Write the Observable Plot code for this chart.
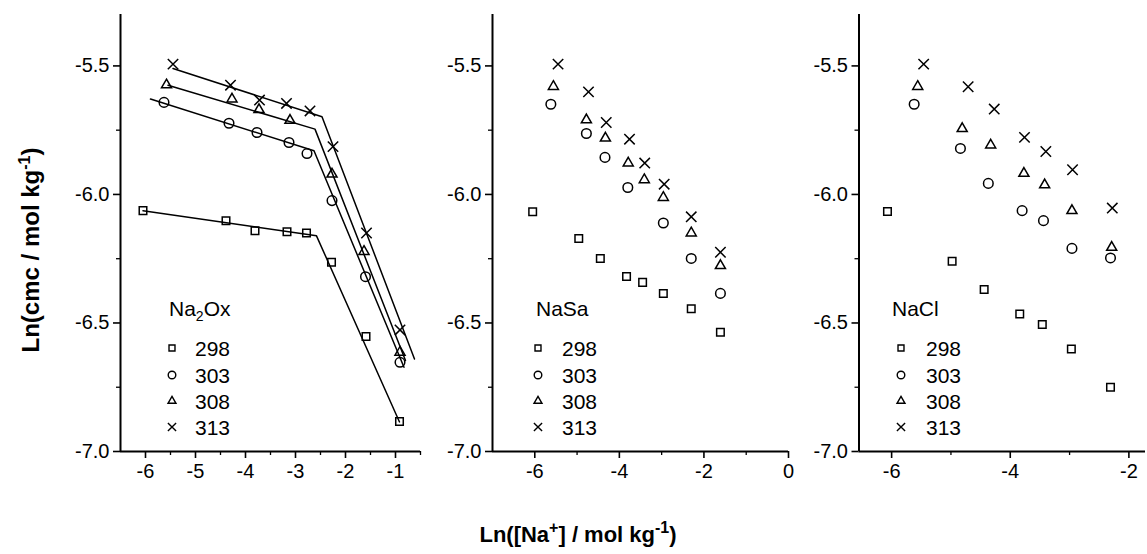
<!DOCTYPE html>
<html>
<head>
<meta charset="utf-8">
<script src="https://cdn.jsdelivr.net/npm/d3@7"></script>
<script src="https://cdn.jsdelivr.net/npm/@observablehq/plot@0.6"></script>
<style>
  html, body { margin: 0; padding: 0; background: #fff; }
  #wrap { position: relative; width: 1147px; height: 554px; overflow: hidden; background: #fff; }
  #wrap > .panel { position: absolute; top: 0; }
  #overlay { position: absolute; left: 0; top: 0; pointer-events: none; }
</style>
</head>
<body>
<div id="wrap"></div>
<script>
// ---------- DATA ----------
const temps = ["298", "303", "308", "313"];
const panelTitles = ["Na2Ox", "NaSa", "NaCl"];

// Panel 1: Na2Ox
const ox298x = [-6.05, -4.39, -3.81, -3.17, -2.78, -2.28, -1.59, -0.92];
const ox298y = [-6.063, -6.102, -6.141, -6.145, -6.150, -6.264, -6.553, -6.883];
const ox303x = [-5.63, -4.33, -3.77, -3.13, -2.77, -2.27, -1.60, -0.91];
const ox303y = [-5.642, -5.723, -5.759, -5.798, -5.841, -6.024, -6.320, -6.653];
const ox308x = [-5.58, -4.27, -3.73, -3.11, -2.27, -1.63, -0.91];
const ox308y = [-5.574, -5.629, -5.670, -5.712, -5.921, -6.222, -6.614];
const ox313x = [-5.45, -4.30, -3.72, -3.18, -2.71, -2.25, -1.58, -0.91];
const ox313y = [-5.493, -5.575, -5.633, -5.646, -5.675, -5.814, -6.150, -6.527];

// Panel 1 fitted broken lines
const fit298x = [-6.05, -2.58, -0.92];
const fit298y = [-6.063, -6.161, -6.885];
const fit303x = [-5.90, -2.63, -0.83];
const fit303y = [-5.629, -5.830, -6.672];
const fit308x = [-5.55, -2.61, -0.80];
const fit308y = [-5.575, -5.746, -6.646];
const fit313x = [-5.45, -2.47, -0.62];
const fit313y = [-5.510, -5.698, -6.640];

// Panel 2: NaSa
const sa298x = [-6.05, -4.96, -4.45, -3.83, -3.45, -2.96, -2.30, -1.61];
const sa298y = [-6.067, -6.171, -6.249, -6.319, -6.342, -6.385, -6.445, -6.536];
const sa303x = [-5.62, -4.78, -4.34, -3.80, -2.96, -2.30, -1.61];
const sa303y = [-5.649, -5.763, -5.856, -5.973, -6.111, -6.249, -6.385];
const sa308x = [-5.56, -4.78, -4.33, -3.79, -3.41, -2.96, -2.30, -1.61];
const sa308y = [-5.580, -5.710, -5.781, -5.878, -5.943, -6.012, -6.150, -6.277];
const sa313x = [-5.45, -4.73, -4.31, -3.76, -3.40, -2.94, -2.30, -1.61];
const sa313y = [-5.493, -5.601, -5.720, -5.785, -5.878, -5.960, -6.087, -6.225];

// Panel 3: NaCl
const cl298x = [-6.07, -4.98, -4.44, -3.84, -3.46, -2.97, -2.31];
const cl298y = [-6.066, -6.260, -6.370, -6.465, -6.506, -6.601, -6.750];
const cl303x = [-5.62, -4.84, -4.37, -3.80, -3.44, -2.96, -2.31];
const cl303y = [-5.649, -5.821, -5.957, -6.063, -6.102, -6.210, -6.247];
const cl308x = [-5.56, -4.81, -4.33, -3.77, -3.42, -2.96, -2.29];
const cl308y = [-5.580, -5.744, -5.808, -5.918, -5.963, -6.063, -6.206];
const cl313x = [-5.46, -4.71, -4.27, -3.76, -3.40, -2.95, -2.28];
const cl313y = [-5.493, -5.581, -5.668, -5.778, -5.833, -5.904, -6.053];

// Axis ticks
const yDomain = [-7.0, -5.3];
const yMajor = [-7.0, -6.5, -6.0, -5.5];
const yMajorLabels = ["-7.0", "-6.5", "-6.0", "-5.5"];
const yMinor = [-6.75, -6.25, -5.75];
const x1Domain = [-6.5, -0.5];
const x1Major = [-6, -5, -4, -3, -2, -1];
const x1Minor = [-5.5, -4.5, -3.5, -2.5, -1.5, -0.5];
const x2Domain = [-7, 0];
const x2Major = [-6, -4, -2, 0];
const x2Minor = [-5, -3, -1];
const x3Domain = [-6.55, -1.72];
const x3Major = [-6, -4, -2];
const x3Minor = [-5, -3];

// ---------- BUILD ----------
const FONT = "'Liberation Sans', Arial, Helvetica, sans-serif";
const symbolRange = ["square2", "circle", "triangle2", "times"];

function rows(xs, ys, t) { return xs.map((x, i) => ({x, y: ys[i], T: t})); }

const p1pts = [...rows(ox298x, ox298y, "298"), ...rows(ox303x, ox303y, "303"), ...rows(ox308x, ox308y, "308"), ...rows(ox313x, ox313y, "313")];
const p1fit = [...rows(fit298x, fit298y, "298"), ...rows(fit303x, fit303y, "303"), ...rows(fit308x, fit308y, "308"), ...rows(fit313x, fit313y, "313")];
const p2pts = [...rows(sa298x, sa298y, "298"), ...rows(sa303x, sa303y, "303"), ...rows(sa308x, sa308y, "308"), ...rows(sa313x, sa313y, "313")];
const p3pts = [...rows(cl298x, cl298y, "298"), ...rows(cl303x, cl303y, "303"), ...rows(cl308x, cl308y, "308"), ...rows(cl313x, cl313y, "313")];

const H = 500, MT = 14, MB = 49;

function panel({left, width, ml, mr, xDomain, xMajor, xMinor, pts, fit}) {
  const marks = [
    Plot.ruleX([xDomain[0]], {stroke: "#000", strokeWidth: 2}),
    Plot.ruleY([yDomain[0]], {stroke: "#000", strokeWidth: 2}),
    Plot.axisX(xMajor, {tickSize: 7, tickPadding: 5, strokeWidth: 1.6, tickFormat: d => String(d), label: null, fontSize: 20}),
    Plot.axisX(xMinor, {tickSize: 4, strokeWidth: 1.3, tickFormat: () => "", label: null}),
    Plot.axisY(yMajor, {tickSize: 7, tickPadding: 4, strokeWidth: 1.6, tickFormat: d => yMajorLabels[yMajor.indexOf(d)], label: null, fontSize: 20}),
    Plot.axisY(yMinor, {tickSize: 4, strokeWidth: 1.3, tickFormat: () => "", label: null})
  ];
  if (fit) marks.push(Plot.line(fit, {x: "x", y: "y", z: "T", stroke: "#000", strokeWidth: 1.5}));
  marks.push(Plot.dot(pts, {x: "x", y: "y", symbol: "T", r: 4.8, stroke: "#000", fill: "none", strokeWidth: 1.5}));
  const svg = Plot.plot({
    width, height: H,
    marginLeft: ml, marginRight: mr, marginTop: MT, marginBottom: MB,
    x: {domain: xDomain},
    y: {domain: yDomain},
    symbol: {domain: temps, range: symbolRange},
    style: {fontFamily: FONT, fontSize: "20px", color: "#000", background: "transparent", overflow: "visible"},
    marks
  });
  svg.classList.add("panel");
  svg.style.left = left + "px";
  return svg;
}

const wrap = document.getElementById("wrap");
wrap.appendChild(panel({left: 0, width: 440, ml: 120, mr: 20, xDomain: x1Domain, xMajor: x1Major, xMinor: x1Minor, pts: p1pts, fit: p1fit}));
wrap.appendChild(panel({left: 440, width: 370, ml: 52, mr: 22, xDomain: x2Domain, xMajor: x2Major, xMinor: x2Minor, pts: p2pts}));
wrap.appendChild(panel({left: 810, width: 337, ml: 48.5, mr: 2, xDomain: x3Domain, xMajor: x3Major, xMinor: x3Minor, pts: p3pts}));

// ---------- OVERLAY: legends & axis titles ----------
const ov = d3.select(wrap).append("svg").attr("id", "overlay")
  .attr("width", 1147).attr("height", 554)
  .style("font-family", FONT);

const symFns = [d3.symbolSquare2, d3.symbolCircle, d3.symbolTriangle2, d3.symbolTimes];
const legends = [
  {tx: 169, sx: 172, lx: 195},
  {tx: 536, sx: 538, lx: 562},
  {tx: 892, sx: 901, lx: 926}
];
const rowY = [348, 375, 401, 427];
legends.forEach((L, k) => {
  const g = ov.append("g");
  const t = g.append("text").attr("x", L.tx).attr("y", 316).attr("font-size", 21).attr("fill", "#000");
  if (k === 0) {
    t.append("tspan").text("Na");
    t.append("tspan").attr("dy", 5).attr("font-size", 14).text("2");
    t.append("tspan").attr("dy", -5).text("Ox");
  } else {
    t.text(panelTitles[k]);
  }
  temps.forEach((tp, i) => {
    g.append("path")
      .attr("d", d3.symbol(symFns[i], Math.PI * 3.8 * 3.8)())
      .attr("transform", `translate(${L.sx},${rowY[i]})`)
      .attr("fill", "none").attr("stroke", "#000").attr("stroke-width", 1.4);
    g.append("text").attr("x", L.lx).attr("y", rowY[i]).attr("dy", "0.36em")
      .attr("font-size", 21).attr("fill", "#000").text(tp);
  });
});

// Y title
const yt = ov.append("text")
  .attr("transform", "translate(39,250) rotate(-90)")
  .attr("text-anchor", "middle").attr("font-size", 24).attr("font-weight", "bold").attr("fill", "#000");
yt.append("tspan").text("Ln(cmc / mol kg");
yt.append("tspan").attr("dy", -9).attr("font-size", 16).text("-1");
yt.append("tspan").attr("dy", 9).text(")");

// X title
const xt = ov.append("text")
  .attr("x", 578).attr("y", 542)
  .attr("text-anchor", "middle").attr("font-size", 22).attr("font-weight", "bold").attr("fill", "#000");
xt.append("tspan").text("Ln([Na");
xt.append("tspan").attr("dy", -9).attr("font-size", 16).text("+");
xt.append("tspan").attr("dy", 9).text("] / mol kg");
xt.append("tspan").attr("dy", -9).attr("font-size", 16).text("-1");
xt.append("tspan").attr("dy", 9).text(")");
</script>
</body>
</html>
